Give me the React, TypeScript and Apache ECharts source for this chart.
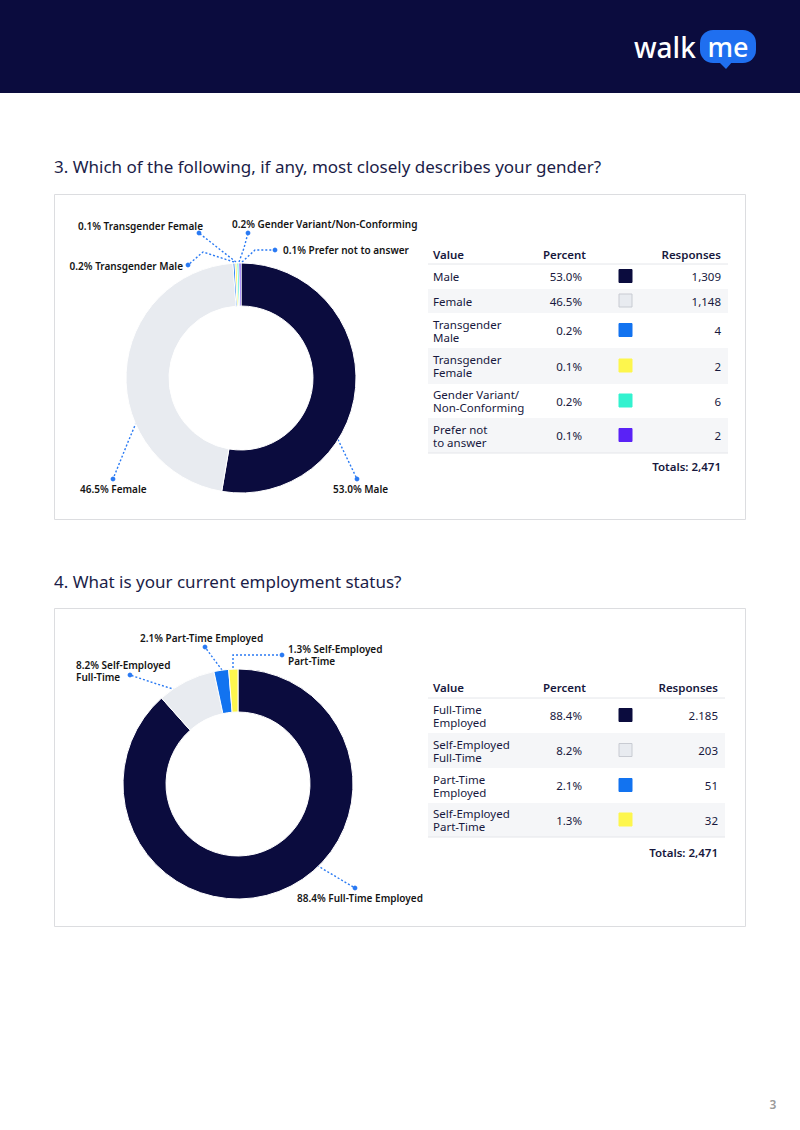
import React, { useEffect, useRef } from 'react';
import * as echarts from 'echarts';

// ---- Data ----
const genderNames = ['Male', 'Female', 'Transgender Male', 'Transgender Female', 'Gender Variant/Non-Conforming', 'Prefer not to answer'];
const genderRowNames = ['Male', 'Female', 'Transgender\nMale', 'Transgender\nFemale', 'Gender Variant/\nNon-Conforming', 'Prefer not\nto answer'];
const genderResponses = [1309, 1148, 4, 2, 6, 2];
const genderPercents = [53.0, 46.5, 0.2, 0.1, 0.2, 0.1];
const genderTotal = '2,471';

const employmentNames = ['Full-Time Employed', 'Self-Employed\nFull-Time', 'Part-Time Employed', 'Self-Employed\nPart-Time'];
const employmentRowNames = ['Full-Time\nEmployed', 'Self-Employed\nFull-Time', 'Part-Time\nEmployed', 'Self-Employed\nPart-Time'];
const employmentResponses = [2185, 203, 51, 32];
const employmentResponseText = ['2.185', '203', '51', '32'];
const employmentPercents = [88.4, 8.2, 2.1, 1.3];
const employmentTotal = '2,471';

// ---- Styling ----
const NAVY = '#0b0c3e';
const TEXT = '#17183d';
const FONT = '"Noto Sans", "Open Sans", sans-serif';
const LEADER = '#2a7af3';
const genderColors = ['#0b0c3e', '#e8ebf0', '#1273f0', '#fdf64d', '#33f2cf', '#5a22f6'];
const employmentColors = ['#0b0c3e', '#e8ebf0', '#1273f0', '#fdf64d'];

type Callout = { lx: number; ly: number; align: 'left' | 'right'; line: number[][] };

// label anchor and leader path for each slice
const genderCallouts: Callout[] = [
  { lx: 333, ly: 489, align: 'left', line: [[331, 425], [344, 452], [357, 479]] },
  { lx: 80, ly: 489, align: 'left', line: [[144, 404], [128, 442], [113, 479]] },
  { lx: 183, ly: 266, align: 'right', line: [[234, 262], [203, 252], [188, 265]] },
  { lx: 203, ly: 226, align: 'right', line: [[236, 262], [218, 248], [199, 233]] },
  { lx: 232, ly: 224, align: 'left', line: [[239, 262], [244, 248], [248, 233]] },
  { lx: 283, ly: 250, align: 'left', line: [[242, 262], [255, 250], [275, 250]] },
];

const employmentCallouts: Callout[] = [
  { lx: 297, ly: 898, align: 'left', line: [[300, 855], [328, 872], [355, 888]] },
  { lx: 76, ly: 671, align: 'left', line: [[183, 692], [157, 684], [130, 675]] },
  { lx: 140, ly: 638, align: 'left', line: [[222, 670], [213, 658], [205, 647]] },
  { lx: 288, ly: 655, align: 'left', line: [[233, 672], [233, 655], [282, 655]] },
];

function donut(
  center: number[],
  names: string[],
  values: number[],
  percents: number[],
  colors: string[],
  callouts: Callout[]
) {
  return {
    type: 'pie',
    center,
    radius: [72, 115],
    startAngle: 90,
    clockwise: true,
    minAngle: 1,
    avoidLabelOverlap: false,
    silent: true,
    itemStyle: { borderColor: '#ffffff', borderWidth: 1 },
    data: values.map((v, i) => ({ value: v, name: names[i], itemStyle: { color: colors[i] } })),
    label: {
      show: true,
      formatter: (p: any) => `${percents[p.dataIndex].toFixed(1)}% ${names[p.dataIndex]}`,
      color: '#141414',
      fontFamily: FONT,
      fontSize: 10,
      fontWeight: 600,
      lineHeight: 12,
    },
    labelLine: {
      show: true,
      smooth: false,
      lineStyle: { color: LEADER, width: 1.4, type: [2, 2] },
    },
    labelLayout: (p: any) => {
      const c = callouts[p.dataIndex];
      return { x: c.lx, y: c.ly, align: c.align, verticalAlign: 'middle', labelLinePoints: c.line };
    },
  };
}

function calloutDots(callouts: Callout[]) {
  return callouts.map((c) => {
    const end = c.line[c.line.length - 1];
    return { type: 'circle', shape: { cx: end[0], cy: end[1], r: 2.4 }, style: { fill: LEADER }, silent: true };
  });
}

function table(opts: {
  x0: number;
  x1: number;
  headerY: number;
  rowEdges: number[];
  names: string[];
  percents: number[];
  colors: string[];
  responses: string[];
  respRight: number;
  totalsY: number;
  total: string;
}) {
  const els: any[] = [];
  const { x0, x1, headerY, rowEdges, names, percents, colors, responses, respRight, totalsY, total } = opts;
  const headStyle = { fill: TEXT, font: `600 11.5px ${FONT}`, verticalAlign: 'middle' };
  els.push({ type: 'text', x: 433, y: headerY, style: { ...headStyle, text: 'Value', align: 'left' } });
  els.push({ type: 'text', x: 586, y: headerY, style: { ...headStyle, text: 'Percent', align: 'right' } });
  els.push({ type: 'text', x: respRight, y: headerY, style: { ...headStyle, text: 'Responses', align: 'right' } });
  names.forEach((name, i) => {
    const top = rowEdges[i];
    const bottom = rowEdges[i + 1];
    const mid = (top + bottom) / 2;
    if (i % 2 === 1) {
      els.push({ type: 'rect', shape: { x: x0, y: top, width: x1 - x0, height: bottom - top }, style: { fill: '#f5f6f8' } });
    }
    const cell = { fill: TEXT, font: `400 11.5px ${FONT}`, verticalAlign: 'middle', lineHeight: 13 };
    els.push({ type: 'text', x: 433, y: mid, style: { ...cell, text: name, align: 'left' } });
    els.push({ type: 'text', x: 582, y: mid, style: { ...cell, text: `${percents[i].toFixed(1)}%`, align: 'right' } });
    els.push({
      type: 'rect',
      shape: { x: 619, y: mid - 7, width: 13, height: 13 },
      style: { fill: colors[i], stroke: colors[i] === '#e8ebf0' ? '#c8cbd2' : colors[i], lineWidth: 1 },
    });
    els.push({ type: 'text', x: respRight, y: mid, style: { ...cell, text: responses[i], align: 'right' } });
  });
  els.push({ type: 'line', shape: { x1: x0, y1: rowEdges[0], x2: x1, y2: rowEdges[0] }, style: { stroke: '#e4e6ea', lineWidth: 1 } });
  const last = rowEdges[rowEdges.length - 1];
  els.push({ type: 'line', shape: { x1: x0, y1: last, x2: x1, y2: last }, style: { stroke: '#e4e6ea', lineWidth: 1 } });
  els.push({
    type: 'text',
    x: respRight,
    y: totalsY,
    style: { text: `Totals: ${total}`, fill: TEXT, font: `600 11.5px ${FONT}`, align: 'right', verticalAlign: 'middle' },
  });
  return els;
}

function buildOption() {
  const graphic: any[] = [
    // header band
    { type: 'rect', shape: { x: 0, y: 0, width: 800, height: 93 }, style: { fill: NAVY }, z: 0 },
    { type: 'text', x: 634, y: 47, style: { text: 'walk', fill: '#ffffff', font: `500 28px ${FONT}`, verticalAlign: 'middle' } },
    { type: 'rect', shape: { x: 700, y: 30, width: 56, height: 33, r: 13 }, style: { fill: '#1f6ff0' } },
    { type: 'polygon', shape: { points: [[718, 61], [733, 61], [726, 69]] }, style: { fill: '#1f6ff0' } },
    { type: 'text', x: 728, y: 46, style: { text: 'me', fill: '#ffffff', font: `500 27px ${FONT}`, align: 'center', verticalAlign: 'middle' } },

    // section titles
    {
      type: 'text', x: 54, y: 166,
      style: { text: '3. Which of the following, if any, most closely describes your gender?', fill: '#1b1d48', font: `400 17px ${FONT}`, verticalAlign: 'middle' },
    },
    {
      type: 'text', x: 54, y: 581,
      style: { text: '4. What is your current employment status?', fill: '#1b1d48', font: `400 17px ${FONT}`, verticalAlign: 'middle' },
    },

    // panels
    { type: 'rect', shape: { x: 54.5, y: 194.5, width: 691, height: 325 }, style: { fill: 'none', stroke: '#dcdde0', lineWidth: 1 } },
    { type: 'rect', shape: { x: 54.5, y: 608.5, width: 691, height: 318 }, style: { fill: 'none', stroke: '#dcdde0', lineWidth: 1 } },

    ...table({
      x0: 428, x1: 728, headerY: 254,
      rowEdges: [264, 289, 313, 348, 384, 418, 453],
      names: genderRowNames, percents: genderPercents, colors: genderColors,
      responses: genderResponses.map((v) => v.toLocaleString('en-US')),
      respRight: 721, totalsY: 466, total: genderTotal,
    }),
    ...table({
      x0: 428, x1: 725, headerY: 687,
      rowEdges: [698, 733, 768, 803, 837],
      names: employmentRowNames, percents: employmentPercents, colors: employmentColors,
      responses: employmentResponseText,
      respRight: 718, totalsY: 852, total: employmentTotal,
    }),

    ...calloutDots(genderCallouts),
    ...calloutDots(employmentCallouts),

    // page number
    { type: 'text', x: 773, y: 1104, style: { text: '3', fill: '#9a9a9a', font: `600 12px ${FONT}`, align: 'center', verticalAlign: 'middle' } },
  ];

  return {
    animation: false,
    backgroundColor: '#ffffff',
    graphic,
    series: [
      donut([241, 378], genderNames, genderResponses, genderPercents, genderColors, genderCallouts),
      donut([238, 784], employmentNames, employmentResponses, employmentPercents, employmentColors, employmentCallouts),
    ],
  };
}

export default function App() {
  const ref = useRef<HTMLDivElement>(null);
  useEffect(() => {
    if (!ref.current) return;
    const chart = echarts.init(ref.current, null, { renderer: 'svg' });
    chart.setOption(buildOption() as any);
    return () => chart.dispose();
  }, []);
  return (
    <div
      ref={ref}
      style={{ position: 'absolute', left: 0, top: 0, width: 800, height: 1130, background: '#ffffff' }}
    />
  );
}
